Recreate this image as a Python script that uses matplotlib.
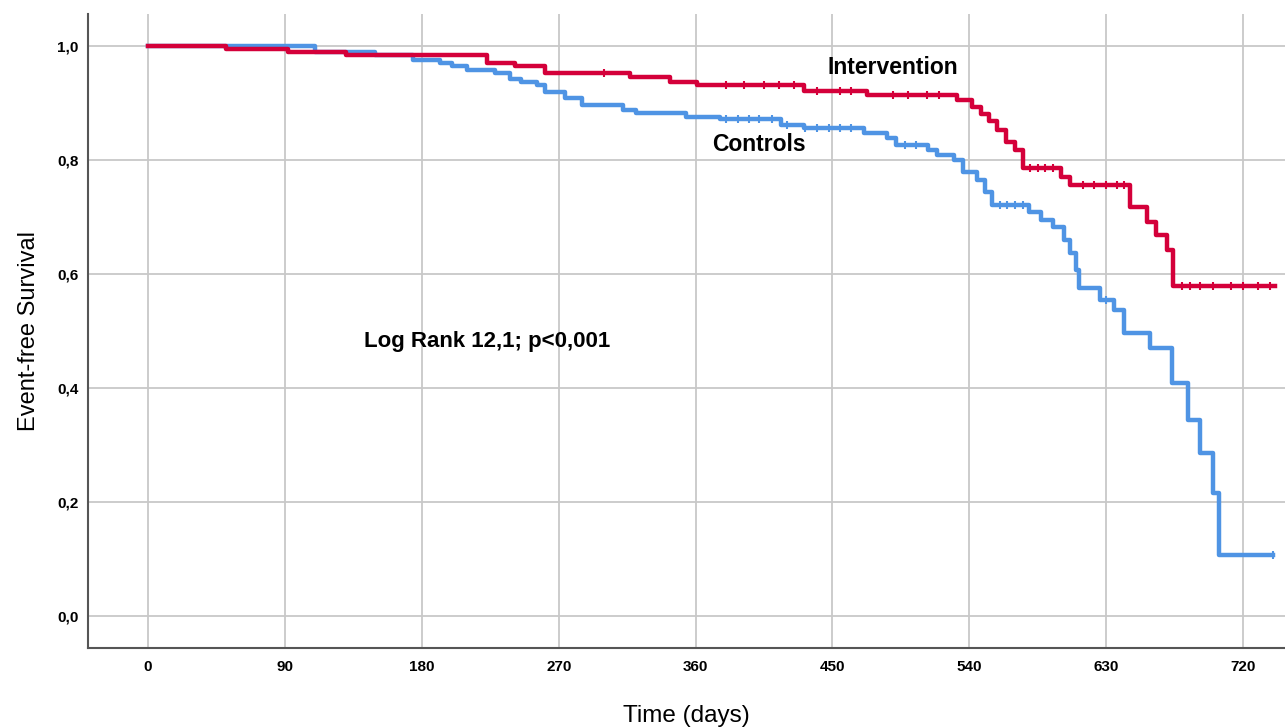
import numpy as np
import matplotlib.pyplot as plt

# Kaplan-Meier step data (days, event-free survival)
int_t = [0, 51, 92, 130, 223, 241, 261, 317, 343, 361, 431, 473, 532, 542,
         548, 553, 558, 564, 570, 575, 600, 606, 646, 657, 663, 670, 674, 741]
int_s = [1.0, 0.995, 0.989, 0.984, 0.970, 0.965, 0.952, 0.945, 0.937, 0.932, 0.921,
         0.914, 0.905, 0.893, 0.880, 0.868, 0.852, 0.832, 0.818, 0.786, 0.770,
         0.756, 0.718, 0.691, 0.668, 0.642, 0.579, 0.579]
int_cens = [300, 380, 392, 405, 415, 425, 440, 455, 462, 490, 500, 512, 520,
            580, 585, 590, 595, 615, 622, 630, 637, 642, 680, 685, 692, 700, 712,
            720, 730, 738]

ctl_t = [0, 110, 149, 174, 192, 200, 210, 228, 238, 245, 256, 261, 274, 285,
         312, 321, 354, 376, 416, 431, 471, 486, 492, 513, 519, 530, 536, 545,
         550, 555, 579, 587, 595, 602, 606, 610, 612, 626, 635, 642, 659, 673,
         684, 692, 700, 704, 740]
ctl_s = [1.0, 0.989, 0.984, 0.975, 0.970, 0.965, 0.958, 0.953, 0.942, 0.937,
         0.932, 0.919, 0.909, 0.896, 0.888, 0.882, 0.875, 0.872, 0.861, 0.856,
         0.847, 0.839, 0.826, 0.818, 0.809, 0.800, 0.779, 0.765, 0.744, 0.721,
         0.709, 0.695, 0.682, 0.660, 0.637, 0.607, 0.575, 0.554, 0.537, 0.496,
         0.470, 0.409, 0.344, 0.286, 0.216, 0.107, 0.107]
ctl_cens = [380, 388, 395, 402, 410, 420, 432, 440, 448, 455, 462, 498, 505,
            560, 565, 570, 575, 630, 740]

red = '#d4003a'
blue = '#4f94e4'
font = 'Liberation Sans'


def surv_at(times, surv, t):
    i = np.searchsorted(times, t, side='right') - 1
    return np.array(surv)[i]


fig = plt.figure(figsize=(12.85, 7.27), dpi=100)
ax = fig.add_axes([0.0685, 0.1087, 0.9315, 0.872])

ax.step(ctl_t, ctl_s, where='post', color=blue, lw=3.2, zorder=3)
ax.step(int_t, int_s, where='post', color=red, lw=3.2, zorder=4)
ax.plot(ctl_cens, surv_at(ctl_t, ctl_s, ctl_cens), ls='none', marker='|',
        ms=6, mew=1.5, color=blue, zorder=3)
ax.plot(int_cens, surv_at(int_t, int_s, int_cens), ls='none', marker='|',
        ms=6, mew=1.5, color=red, zorder=4)

ax.set_xlim(-39.5, 747.6)
ax.set_ylim(-0.056, 1.056)
xt = np.arange(0, 721, 90)
yt = np.arange(0, 1.01, 0.2)
ax.set_xticks(xt)
ax.set_yticks(yt)
ax.set_xticklabels([str(v) for v in xt], fontsize=11, fontweight='bold',
                   family=font)
ax.set_yticklabels([f'{v:.1f}'.replace('.', ',') for v in yt], fontsize=11,
                   fontweight='bold', family=font)
ax.tick_params(axis='x', length=0, pad=9)
ax.tick_params(axis='y', length=0, pad=7)
ax.grid(True, color='#c8c8c8', lw=1.3)
ax.set_axisbelow(True)
for s in ['top', 'right']:
    ax.spines[s].set_visible(False)
for s in ['left', 'bottom']:
    ax.spines[s].set_color('#555555')
    ax.spines[s].set_linewidth(1.5)

ax.set_xlabel('Time (days)', fontsize=17.5, family=font, labelpad=22)
ax.set_ylabel('Event-free Survival', fontsize=17, family=font, labelpad=12)

ax.text(447, 0.963, 'Intervention', fontsize=16.5, fontweight='bold',
        family=font, va='center')
ax.text(371, 0.828, 'Controls', fontsize=16.5, fontweight='bold',
        family=font, va='center')
ax.text(142, 0.482, 'Log Rank 12,1; p<0,001', fontsize=16, fontweight='bold',
        family=font, va='center')

fig.savefig('out.png', dpi=100)
